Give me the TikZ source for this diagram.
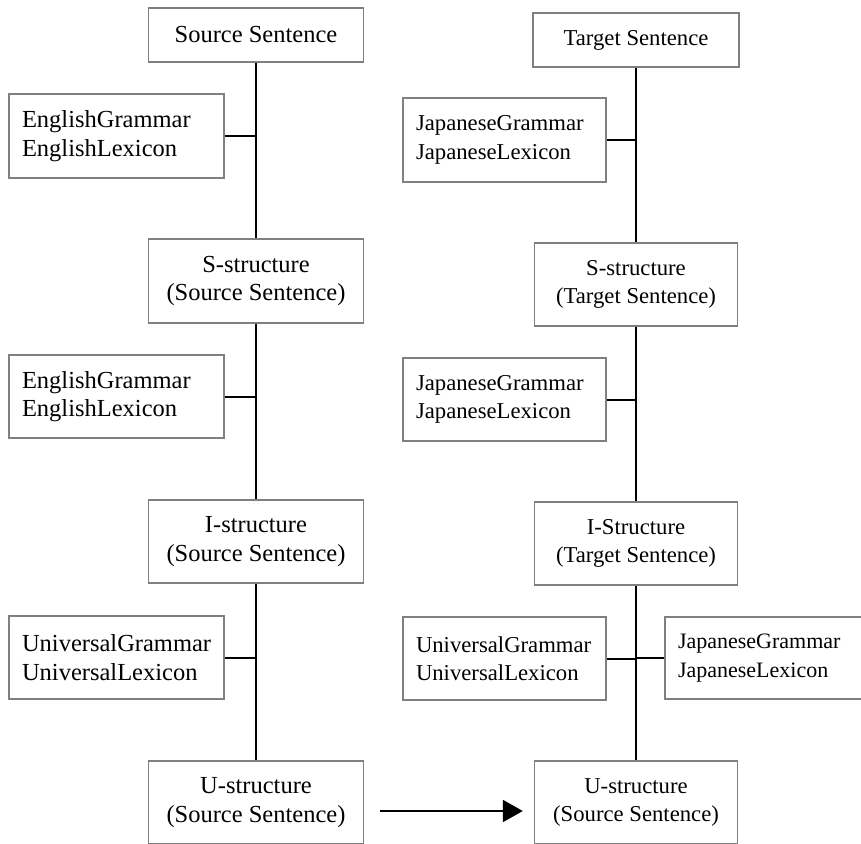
\documentclass[tikz,border=0pt]{standalone}
\usepackage{fontspec}
\setmainfont{Liberation Serif}
\usetikzlibrary{arrows.meta,calc}
\begin{document}
\begin{tikzpicture}[x=1pt,y=-1pt,
  box/.style={draw=black!50, line width=1.4pt, rectangle, inner sep=0pt,
    font={\fontsize{24.5}{28.5}\selectfont}},
  small/.style={font={\fontsize{22.7}{28.3}\selectfont}},
  stage/.style={box, align=center},
  lexbox/.style={box, align=left, inner xsep=13pt},
  link/.style={line width=2pt, black}]
\useasboundingbox (0,0) rectangle (861,843);
\clip (0,0) rectangle (861,843);

% source side
\node[stage, minimum width=215, minimum height=54] (src) at (256,35) {Source Sentence};
\node[lexbox, minimum width=215, minimum height=84, text width=189] (eg1) at (116.5,136) {EnglishGrammar\\EnglishLexicon};
\node[stage, minimum width=215, minimum height=84] (ss1) at (256,281) {S-structure\\(Source Sentence)};
\node[lexbox, minimum width=215, minimum height=83, text width=189] (eg2) at (116.5,396.5) {EnglishGrammar\\EnglishLexicon};
\node[stage, minimum width=215, minimum height=83] (is1) at (256,541.5) {I-structure\\(Source Sentence)};
\node[lexbox, minimum width=215, minimum height=83, text width=189] (ug1) at (116.5,657.5) {UniversalGrammar\\UniversalLexicon};
\node[stage, minimum width=215, minimum height=83] (us1) at (256,802.5) {U-structure\\(Source Sentence)};

% target side
\node[stage, small, minimum width=206, minimum height=54] (tgt) at (636,40) {Target Sentence};
\node[lexbox, small, minimum width=203, minimum height=84, text width=177] (jg1) at (504.5,140) {JapaneseGrammar\\JapaneseLexicon};
\node[stage, small, minimum width=203, minimum height=83] (ts1) at (636,284.5) {S-structure\\(Target Sentence)};
\node[lexbox, small, minimum width=203, minimum height=83, text width=177] (jg2) at (504.5,399.5) {JapaneseGrammar\\JapaneseLexicon};
\node[stage, small, minimum width=203, minimum height=83] (it1) at (636,543.5) {I-Structure\\(Target Sentence)};
\node[lexbox, small, minimum width=203, minimum height=83, text width=177] (ug2) at (504.5,658.5) {UniversalGrammar\\UniversalLexicon};
\node[lexbox, minimum width=203, minimum height=82, text width=177,
      font={\fontsize{22}{28.5}\selectfont}] (jg3) at (766.5,658) {JapaneseGrammar\\JapaneseLexicon};
\node[stage, small, minimum width=203, minimum height=83] (ut1) at (636,802.5) {U-structure\\(Source Sentence)};

% vertical chains
\draw[link] (src.south) -- (ss1.north);
\draw[link] (ss1.south) -- (is1.north);
\draw[link] (is1.south) -- (us1.north);
\draw[link] (tgt.south) -- (ts1.north);
\draw[link] (ts1.south) -- (it1.north);
\draw[link] (it1.south) -- (ut1.north);

% knowledge sources feeding each step
\draw[link] (eg1.east) -- (eg1.east -| src.south);
\draw[link] (eg2.east) -- (eg2.east -| src.south);
\draw[link] (ug1.east) -- (ug1.east -| src.south);
\draw[link] (jg1.east) -- (jg1.east -| tgt.south);
\draw[link] (jg2.east) -- (jg2.east -| tgt.south);
\draw[link] (ug2.east) -- (ug2.east -| tgt.south);
\draw[link] (jg3.west) -- (jg3.west -| tgt.south);

% transfer arrow
\coordinate (t1) at ($(us1.east)+(16,8.5)$);
\coordinate (t2) at ($(ut1.west)+(-11,8.5)$);
\draw[link, -{Triangle[length=20pt,width=22pt]}] (t1) -- (t2);
\end{tikzpicture}
\end{document}
